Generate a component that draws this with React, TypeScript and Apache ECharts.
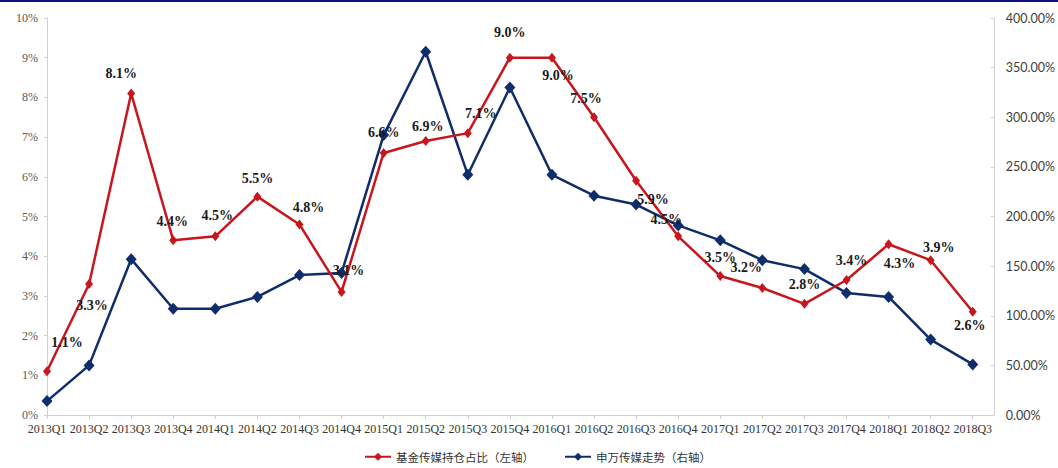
import React, { useEffect, useRef } from "react";
import * as echarts from "echarts";

// Quarter labels along the horizontal axis
const quarters: string[] = [
  "2013Q1", "2013Q2", "2013Q3", "2013Q4",
  "2014Q1", "2014Q2", "2014Q3", "2014Q4",
  "2015Q1", "2015Q2", "2015Q3", "2015Q4",
  "2016Q1", "2016Q2", "2016Q3", "2016Q4",
  "2017Q1", "2017Q2", "2017Q3", "2017Q4",
  "2018Q1", "2018Q2", "2018Q3",
];

// Fund holdings of media stocks, share of portfolio (%), left axis
const fundShare: number[] = [
  1.1, 3.3, 8.1, 4.4,
  4.5, 5.5, 4.8, 3.1,
  6.6, 6.9, 7.1, 9.0,
  9.0, 7.5, 5.9, 4.5,
  3.5, 3.2, 2.8, 3.4,
  4.3, 3.9, 2.6,
];

// Shenwan media index cumulative move (%), right axis
const swMedia: number[] = [
  14, 50, 157, 107,
  107, 119, 141, 143,
  282, 366, 242, 330,
  242, 221, 212, 191,
  176, 156, 147, 123,
  119, 76, 51,
];

// Left axis ticks (%) and right axis ticks (%)
const leftTicks = { min: 0, max: 10, step: 1 };
const rightTicks = { min: 0, max: 400, step: 50 };

// Where each holdings label sits relative to its point [dx, dy]
const labelOffsets: [number, number][] = [
  [20, -29], [3, 22], [-10, -20], [-1, -19],
  [2, -21], [0, -18], [9, -17], [7, -21],
  [0, -20], [2, -15], [13, -20], [0, -25],
  [6, 18], [-8, -19], [17, 19], [-12, -17],
  [0, -19], [-16, -20], [0, -19], [5, -20],
  [11, 19], [8, -13], [-3, 14],
];

const RED = "#C8161D";
const NAVY = "#0F2D6B";
const AXIS_GREY = "#D0D0D0";

export default function App() {
  const ref = useRef<HTMLDivElement>(null);

  useEffect(() => {
    if (!ref.current) return;
    const chart = echarts.init(ref.current, undefined, { renderer: "svg" });

    const serif = "'Liberation Serif', 'Times New Roman', serif";

    chart.setOption({
      animation: false,
      backgroundColor: "#ffffff",
      graphic: [
        {
          type: "rect",
          left: 0,
          top: 0,
          shape: { width: 1058, height: 2 },
          style: { fill: "#10107A" },
          silent: true,
        },
      ],
      grid: { left: 47, right: 64, top: 18, bottom: 53 },
      legend: {
        left: 364,
        top: 451,
        padding: 0,
        itemWidth: 26,
        itemHeight: 10,
        itemGap: 30,
        textStyle: {
          fontFamily: "'Noto Sans CJK SC', sans-serif",
          fontSize: 11.5,
          color: "#333333",
        },
        data: ["基金传媒持仓占比（左轴）", "申万传媒走势（右轴）"],
      },
      xAxis: {
        type: "value",
        min: 0,
        max: quarters.length - 0.5,
        interval: 1,
        splitLine: { show: false },
        axisLine: { show: true, lineStyle: { color: AXIS_GREY, width: 1 } },
        axisTick: { show: true, length: 4, lineStyle: { color: AXIS_GREY } },
        axisLabel: {
          margin: 8,
          fontFamily: serif,
          fontSize: 12,
          color: "#333333",
          showMaxLabel: false,
          formatter: (v: number) =>
            Number.isInteger(v) && quarters[v] ? quarters[v] : "",
        },
      },
      yAxis: [
        {
          type: "value",
          position: "left",
          min: leftTicks.min,
          max: leftTicks.max,
          interval: leftTicks.step,
          splitLine: { show: false },
          axisLine: { show: true, lineStyle: { color: AXIS_GREY } },
          axisTick: { show: true, length: 3, lineStyle: { color: AXIS_GREY } },
          axisLabel: {
            margin: 9,
            fontFamily: serif,
            fontSize: 12,
            color: "#595959",
            formatter: (v: number) => `${v}%`,
          },
        },
        {
          type: "value",
          position: "right",
          min: rightTicks.min,
          max: rightTicks.max,
          interval: rightTicks.step,
          splitLine: { show: false },
          axisLine: { show: true, lineStyle: { color: AXIS_GREY } },
          axisTick: {
            show: true,
            inside: true,
            length: 3,
            lineStyle: { color: AXIS_GREY },
          },
          axisLabel: {
            margin: 12,
            fontFamily: "Lato, 'Open Sans', sans-serif",
            fontSize: 12.5,
            color: "#404040",
            formatter: (v: number) => `${v.toFixed(2)}%`,
          },
        },
      ],
      series: [
        {
          name: "基金传媒持仓占比（左轴）",
          type: "line",
          yAxisIndex: 0,
          z: 3,
          symbol: "diamond",
          symbolSize: [8, 10],
          lineStyle: { color: RED, width: 2.5 },
          itemStyle: { color: RED },
          label: {
            show: true,
            position: "inside",
            fontFamily: serif,
            fontWeight: "bold",
            fontSize: 14,
            color: "#1A1A1A",
            formatter: (p: any) => `${p.value[1].toFixed(1)}%`,
          },
          data: fundShare.map((v, i) => ({
            value: [i, v],
            label: { offset: labelOffsets[i] },
          })),
        },
        {
          name: "申万传媒走势（右轴）",
          type: "line",
          yAxisIndex: 1,
          z: 2,
          symbol: "diamond",
          symbolSize: [11, 12],
          lineStyle: { color: NAVY, width: 2.5 },
          itemStyle: { color: NAVY },
          data: swMedia.map((v, i) => [i, v]),
        },
      ],
    });

    return () => {
      chart.dispose();
    };
  }, []);

  return (
    <div
      ref={ref}
      style={{ position: "absolute", left: 0, top: 0, width: 1058, height: 468 }}
    />
  );
}
